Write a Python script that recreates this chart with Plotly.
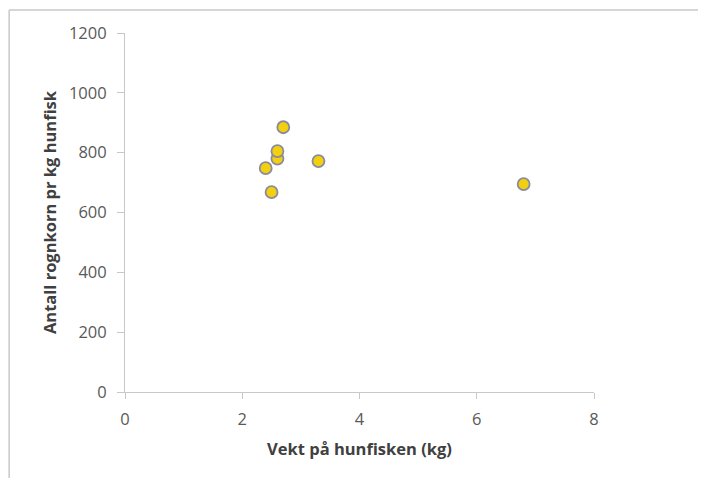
import plotly.graph_objects as go

weight_kg = [2.4, 2.5, 2.6, 2.6, 2.7, 3.3, 6.8]
eggs_per_kg = [748, 668, 780, 805, 885, 772, 695]
x_ticks = [0, 2, 4, 6, 8]
y_ticks = [0, 200, 400, 600, 800, 1000, 1200]

fig = go.Figure(go.Scatter(
    x=weight_kg, y=eggs_per_kg, mode="markers",
    marker=dict(size=12, color="#F2D00E", line=dict(color="#8A8AA0", width=1.8)),
    showlegend=False,
))

FONT = "Open Sans, Liberation Sans, sans-serif"
tick_font = dict(family=FONT, size=16.5, color="#595959")
title_font = dict(family=FONT, size=16.5, color="#404040")

fig.update_xaxes(
    range=[0, 8], tickvals=x_ticks, showgrid=False, zeroline=False,
    showline=True, linecolor="#C8C8C8", linewidth=1,
    ticks="outside", ticklen=6, tickcolor="#C8C8C8",
    tickfont=tick_font, ticklabelstandoff=6,
    title=dict(text="<b>Vekt på hunfisken (kg)</b>", standoff=14, font=title_font),
)
fig.update_yaxes(
    range=[0, 1200], tickvals=y_ticks, showgrid=False, zeroline=False,
    showline=True, linecolor="#C8C8C8", linewidth=1,
    ticks="outside", ticklen=7, tickcolor="#C8C8C8",
    tickfont=tick_font, ticklabelstandoff=7,
    title=dict(text="<b>Antall rognkorn pr kg hunfisk</b>", standoff=8, font=title_font),
)

# outer chart frame (top and left edges visible in the crop)
frame = dict(color="#C8C8C8", width=1.5)
fig.add_shape(type="line", xref="paper", yref="paper",
              x0=-0.247, x1=1.4, y0=1.064, y1=1.064, line=frame, layer="below")
fig.add_shape(type="line", xref="paper", yref="paper",
              x0=-0.247, x1=-0.247, y0=-0.4, y1=1.064, line=frame, layer="below")

fig.update_layout(
    width=698, height=470,
    margin=dict(l=117, r=112, t=25, b=86),
    paper_bgcolor="white", plot_bgcolor="white",
)

fig.write_html("out.html", config={"displayModeBar": False})
